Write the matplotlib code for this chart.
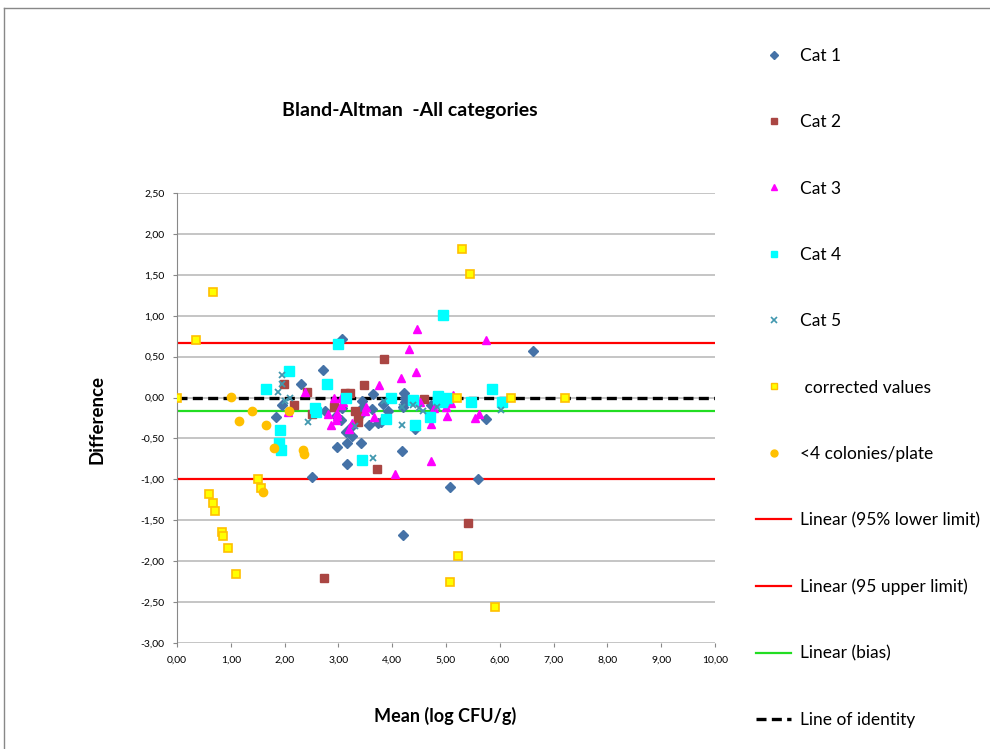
import numpy as np
import matplotlib
matplotlib.use("Agg")
import matplotlib.pyplot as plt
from matplotlib.lines import Line2D
from matplotlib.ticker import FuncFormatter, MultipleLocator

plt.rcParams['font.family'] = ['Lato', 'DejaVu Sans']

# mean (log CFU/g) and difference per category
cat1_x = [3.07, 2.71, 2.30, 1.96, 1.84, 2.75, 3.06, 3.43, 3.45, 2.97, 3.16, 3.26, 3.42,
          3.16, 3.56, 3.15, 3.23, 2.50, 3.05, 2.96, 3.40, 3.62, 3.65, 3.83, 3.92, 3.74,
          3.80, 4.22, 4.24, 4.23, 4.21, 4.42, 4.19, 4.73, 5.74, 6.61, 5.07, 5.60, 4.21]
cat1_y = [0.71, 0.34, 0.16, -0.09, -0.24, -0.16, -0.13, -0.04, -0.11, -0.60, -0.55, -0.47, -0.56,
          -0.81, -0.34, -0.42, -0.36, -0.97, -0.28, -0.23, -0.21, -0.14, 0.04, -0.08, -0.17, -0.31,
          -0.30, 0.06, 0.00, -0.06, -0.11, -0.39, -0.65, -0.09, -0.26, 0.57, -1.09, -1.00, -1.68]

cat2_x = [1.98, 2.41, 2.18, 2.51, 2.92, 3.13, 3.21, 3.30, 3.37, 3.37, 3.48, 3.84, 3.72, 4.60, 2.73, 5.40]
cat2_y = [0.17, 0.07, -0.09, -0.20, -0.11, 0.06, 0.05, -0.16, -0.23, -0.30, 0.15, 0.47, -0.87, -0.02, -2.21, -1.53]

cat3_x = [2.37, 2.91, 2.06, 2.81, 3.05, 3.09, 3.05, 2.97, 3.52, 3.49, 2.98, 3.26, 2.87, 3.67, 3.20,
          2.95, 3.75, 4.16, 4.45, 4.31, 4.47, 5.74, 4.52, 5.13, 5.09, 5.00, 4.77, 5.01, 4.72, 5.53,
          5.62, 4.72, 4.05]
cat3_y = [0.07, 0.00, -0.18, -0.20, 0.00, -0.05, -0.09, -0.19, -0.11, -0.16, -0.22, -0.31, -0.34, -0.24, -0.38,
          -0.27, 0.15, 0.24, 0.31, 0.59, 0.84, 0.70, -0.05, 0.03, -0.07, -0.11, -0.13, -0.23, -0.32, -0.25,
          -0.20, -0.77, -0.94]

cat4_x = [2.99, 2.08, 1.65, 2.78, 3.15, 2.57, 2.58, 1.91, 1.89, 1.93, 3.43, 3.97, 3.88, 4.42, 4.38,
          4.71, 4.86, 4.95, 4.94, 5.01, 4.93, 5.46, 5.85, 6.04, 4.85]
cat4_y = [0.66, 0.33, 0.11, 0.16, 0.00, -0.13, -0.18, -0.40, -0.55, -0.64, -0.76, 0.00, -0.26, -0.33, -0.03,
          -0.24, 0.02, -0.03, 1.01, -0.01, -0.05, -0.06, 0.11, -0.05, -0.02]

cat5_x = [1.96, 1.95, 1.88, 2.10, 2.01, 2.44, 3.30, 3.85, 4.19, 4.39, 4.49, 4.57, 4.83, 4.19, 3.65, 6.03]
cat5_y = [0.27, 0.17, 0.07, 0.00, -0.04, -0.30, -0.35, -0.04, -0.11, -0.09, -0.13, -0.16, -0.11, -0.34, -0.74, -0.15]

corr_x = [0.00, 0.36, 0.66, 0.60, 0.66, 0.71, 0.84, 0.86, 0.94, 1.10, 1.51, 1.57,
          5.29, 5.45, 5.21, 6.20, 7.21, 5.23, 5.07, 5.92]
corr_y = [0.00, 0.70, 1.29, -1.18, -1.29, -1.39, -1.64, -1.69, -1.84, -2.16, -0.99, -1.10,
          1.81, 1.51, 0.00, 0.00, 0.00, -1.94, -2.25, -2.56]

low_x = [1.00, 1.39, 2.09, 1.15, 1.65, 1.80, 2.34, 2.36, 1.60]
low_y = [0.01, -0.17, -0.17, -0.29, -0.33, -0.62, -0.64, -0.69, -1.16]

upper_limit = 0.67
lower_limit = -1.00
bias = -0.17
line_x = [0, 10]

fig = plt.figure(figsize=(9.9, 7.49), dpi=100)
ax = fig.add_axes([0.1788, 0.1415, 0.5434, 0.6008])

# reference lines
ax.plot(line_x, [upper_limit] * 2, color='#FF0000', lw=1.6, zorder=2)
ax.plot(line_x, [lower_limit] * 2, color='#FF0000', lw=1.6, zorder=2)
ax.plot(line_x, [bias] * 2, color='#22DD22', lw=1.6, zorder=2)
ax.plot(line_x, [0, 0], color='black', lw=2.4, ls=(0, (3, 1.6)), zorder=2)

ms = 6
ax.plot(cat1_x, cat1_y, ls='none', marker='D', ms=5, color='#4572A7', zorder=3)
ax.plot(cat2_x, cat2_y, ls='none', marker='s', ms=ms, color='#AA4643', zorder=3)
ax.plot(cat3_x, cat3_y, ls='none', marker='^', ms=ms, color='#FF00FF', zorder=3)
ax.plot(cat4_x, cat4_y, ls='none', marker='s', ms=ms + 1, color='#00FFFF', zorder=3)
ax.plot(cat5_x, cat5_y, ls='none', marker='x', ms=5, mew=1.3, color='#4198AF', zorder=3)
ax.plot(corr_x, corr_y, ls='none', marker='s', ms=ms, color='#FFFF00', mec='#FFC000', mew=1.2, zorder=4)
ax.plot(low_x, low_y, ls='none', marker='o', ms=ms, color='#FFC000', zorder=4)

ax.set_xlim(0, 10)
ax.set_ylim(-3, 2.5)
ax.xaxis.set_major_locator(MultipleLocator(1))
ax.yaxis.set_major_locator(MultipleLocator(0.5))
comma = FuncFormatter(lambda v, p: f"{v:.2f}".replace('.', ','))
ax.xaxis.set_major_formatter(comma)
ax.yaxis.set_major_formatter(comma)
ax.tick_params(labelsize=7.5, length=3, color='#888888', pad=6)
ax.yaxis.grid(True, color='#BBBBBB', lw=1.2)
ax.set_axisbelow(True)
for s in ['top', 'right', 'bottom']:
    ax.spines[s].set_visible(False)
ax.spines['left'].set_color('#888888')

fig.text(0.414, 0.852, 'Bland-Altman  -All categories', ha='center', va='center',
         fontsize=14, fontweight='bold')
fig.text(0.098, 0.44, 'Difference', rotation=90, ha='center', va='center',
         fontsize=13.5, fontweight='bold')
fig.text(0.45, 0.044, 'Mean (log CFU/g)', ha='center', va='center',
         fontsize=13, fontweight='bold')

handles = [
    Line2D([], [], ls='none', marker='D', ms=4, color='#4572A7'),
    Line2D([], [], ls='none', marker='s', ms=5, color='#AA4643'),
    Line2D([], [], ls='none', marker='^', ms=5, color='#FF00FF'),
    Line2D([], [], ls='none', marker='s', ms=5, color='#00FFFF'),
    Line2D([], [], ls='none', marker='x', ms=4, mew=1.2, color='#4198AF'),
    Line2D([], [], ls='none', marker='s', ms=5, color='#FFFF00', mec='#FFC000', mew=1),
    Line2D([], [], ls='none', marker='o', ms=5, color='#FFC000'),
    Line2D([], [], color='#FF0000', lw=1.6),
    Line2D([], [], color='#FF0000', lw=1.6),
    Line2D([], [], color='#22DD22', lw=1.6),
    Line2D([], [], color='black', lw=2.4, ls=(0, (3, 1.6))),
]
labels = ['Cat 1', 'Cat 2', 'Cat 3', 'Cat 4', 'Cat 5', ' corrected values', '<4 colonies/plate',
          'Linear (95% lower limit)', 'Linear (95 upper limit)', 'Linear (bias)', 'Line of identity']
fig.legend(handles, labels, loc='upper left', bbox_to_anchor=(0.748, 0.957), frameon=False,
           fontsize=12.5, labelspacing=2.9, handlelength=2.0, handletextpad=0.5)

# chart frame
fig.add_artist(Line2D([0.004, 1.0], [0.989, 0.989], color='#888888', lw=1))
fig.add_artist(Line2D([0.004, 0.004], [0.0, 0.989], color='#888888', lw=1))

fig.savefig('out.png', dpi=100)
